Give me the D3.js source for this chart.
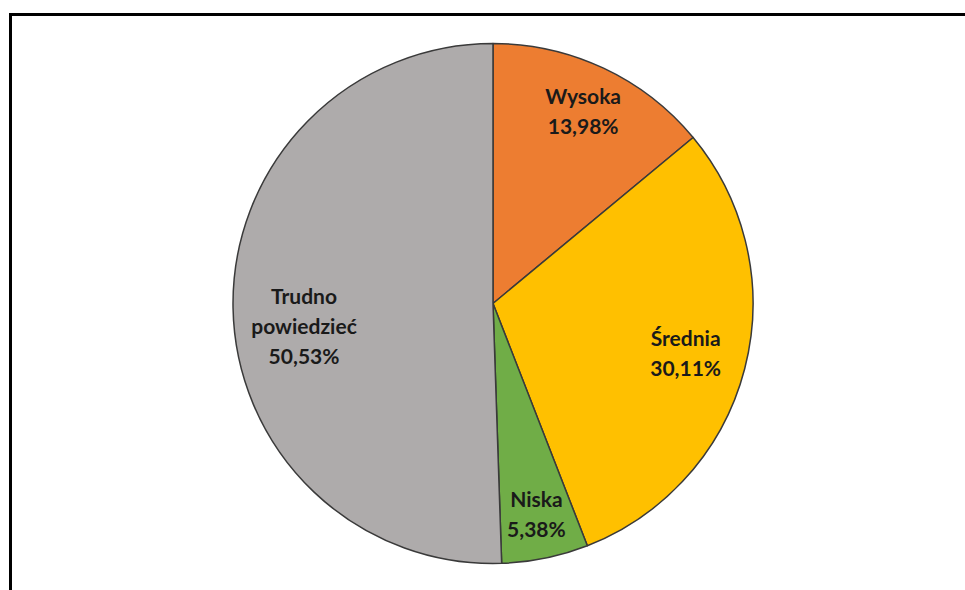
<!DOCTYPE html>
<html>
<head>
<meta charset="utf-8">
<script src="https://cdn.jsdelivr.net/npm/d3@7"></script>
<style>
  html, body { margin: 0; padding: 0; background: #fff; }
  svg { display: block; }
</style>
</head>
<body>
<script>
(function () {
  var categories = ['Wysoka', 'Średnia', 'Niska', 'Trudno powiedzieć'];
  var labelLines = [['Wysoka'], ['Średnia'], ['Niska'], ['Trudno', 'powiedzieć']];
  var values = [13.98, 30.11, 5.38, 50.53];
  var colors = ['#ED7D31', '#FFC000', '#70AD47', '#AEABAB'];
  // label placement (Excel "best fit"): distance from centre and extra vertical nudge
  var labelRadius = [212, 199, 216, 189];
  var labelShiftY = [0, 0, 0, 20];

  var width = 965,
    height = 590,
    cx = 493,
    cy = 303.5,
    radius = 260,
    lineHeight = 30;

  var svg = d3.select('body')
    .append('svg')
    .attr('width', width)
    .attr('height', height);

  svg.append('rect')
    .attr('width', width)
    .attr('height', height)
    .attr('fill', '#fff');

  // frame, cut off at right and bottom
  svg.append('rect')
    .attr('x', 10.5)
    .attr('y', 14.5)
    .attr('width', width + 20)
    .attr('height', height + 20)
    .attr('fill', 'none')
    .attr('stroke', '#000')
    .attr('stroke-width', 3);

  var pie = d3.pie()
    .sort(null)
    .value(function (d) { return d; });

  var arcs = pie(values);

  var arc = d3.arc()
    .innerRadius(0)
    .outerRadius(radius);

  var g = svg.append('g')
    .attr('transform', 'translate(' + cx + ',' + cy + ')');

  g.selectAll('path')
    .data(arcs)
    .enter()
    .append('path')
    .attr('d', arc)
    .attr('fill', function (d, i) { return colors[i]; })
    .attr('stroke', '#3a3a3a')
    .attr('stroke-width', 1.5)
    .attr('stroke-linejoin', 'round');

  var labels = g.selectAll('text')
    .data(arcs)
    .enter()
    .append('text')
    .attr('transform', function (d, i) {
      var r = labelRadius[i];
      var c = d3.arc().innerRadius(r).outerRadius(r).centroid(d);
      return 'translate(' + c[0] + ',' + (c[1] + labelShiftY[i]) + ')';
    })
    .attr('text-anchor', 'middle')
    .style('font-family', 'Lato, "Open Sans", sans-serif')
    .style('font-weight', 'bold')
    .style('font-size', '21px')
    .attr('fill', '#1a1a1a');

  labels.each(function (d, i) {
    var lines = labelLines[i].concat([d3.format('.2f')(values[i]).replace('.', ',') + '%']);
    var t = d3.select(this);
    var start = -(lines.length - 1) * lineHeight / 2;
    lines.forEach(function (line, k) {
      t.append('tspan')
        .attr('x', 0)
        .attr('y', start + k * lineHeight)
        .attr('dy', '0.35em')
        .text(line);
    });
  });
}());
</script>
</body>
</html>
